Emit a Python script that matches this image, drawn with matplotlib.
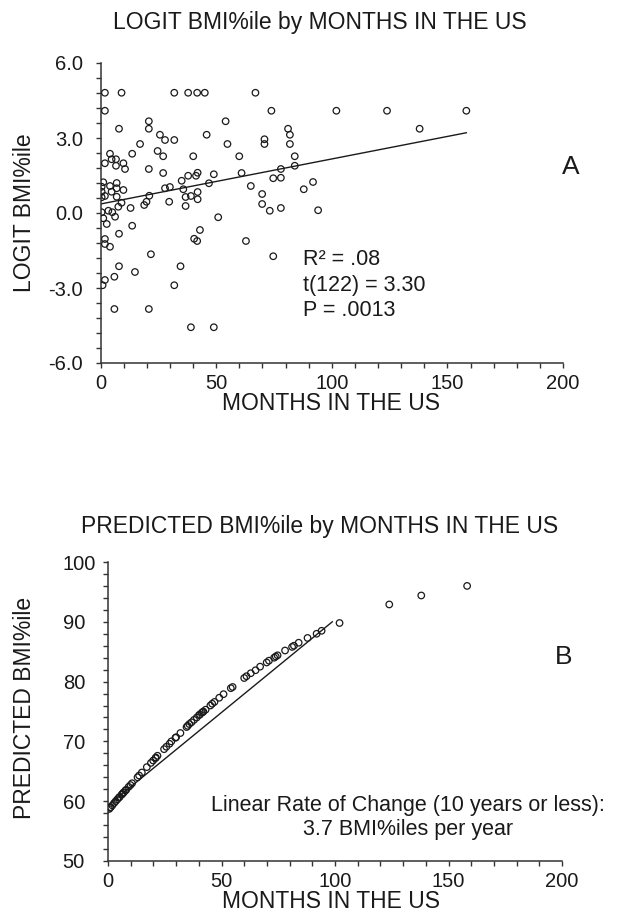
import numpy as np
import matplotlib.pyplot as plt
from matplotlib.ticker import MultipleLocator

plt.rcParams['font.family'] = ['Liberation Sans', 'DejaVu Sans']
plt.rcParams['axes.unicode_minus'] = False

# panel A: months in US vs logit BMI percentile
months = [1.9, 9.1, 31.9, 37.9, 41.8, 45.1, 67.0, 1.9, 73.9, 20.9, 54.1, 8.0, 20.9, 81.1,
          25.7, 45.9, 81.9, 27.9, 31.9, 70.9, 70.9, 17.1, 54.9, 81.9, 24.7, 13.7, 4.1, 27.1,
          40.1, 60.0, 84.0, 4.8, 6.7, 1.9, 6.7, 9.9, 10.6, 20.9, 84.0, 78.0, 27.1, 37.9,
          41.3, 42.0, 49.0, 61.0, 74.7, 78.0, 1.2, 7.0, 0.5, 4.1, 35.1, 46.9, 65.0, 30.0,
          27.9, 0.5, 4.8, 7.0, 9.9, 7.0, 1.9, 35.8, 42.0, 69.9, 21.1, 36.8, 39.1, 42.0,
          0.5, 19.9, 29.7, 9.1, 18.9, 36.8, 69.9, 7.7, 13.0, 78.0, 73.2, 0.5, 3.4, 5.1,
          6.3, 1.2, 50.9, 2.7, 13.7, 43.0, 8.0, 1.9, 40.5, 41.8, 62.9, 1.9, 4.1, 21.8,
          74.7, 8.0, 34.6, 14.9, 6.0, 1.9, 0.9, 31.9, 6.0, 20.9, 39.1, 49.0,
          102.0, 123.9, 158.2, 138.0, 91.9, 94.1, 87.9]
logit_bmi = [4.81, 4.81, 4.81, 4.81, 4.81, 4.81, 4.81, 4.09, 4.09, 3.67, 3.67, 3.37, 3.37, 3.37,
             3.13, 3.13, 3.13, 2.92, 2.92, 2.95, 2.76, 2.76, 2.76, 2.76, 2.48, 2.37, 2.37, 2.27,
             2.27, 2.27, 2.27, 2.15, 2.15, 1.99, 1.89, 1.99, 1.76, 1.76, 1.89, 1.76, 1.60, 1.49,
             1.49, 1.61, 1.55, 1.60, 1.39, 1.41, 1.23, 1.20, 1.05, 1.08, 1.29, 1.19, 1.08, 1.04,
             0.99, 0.85, 0.85, 0.99, 0.92, 0.65, 0.68, 0.95, 0.84, 0.76, 0.69, 0.64, 0.68, 0.55,
             0.63, 0.45, 0.45, 0.41, 0.32, 0.28, 0.36, 0.25, 0.20, 0.20, 0.09, 0.03, 0.09, 0.03,
             -0.15, -0.21, -0.17, -0.44, -0.51, -0.68, -0.83, -1.04, -1.03, -1.12, -1.12, -1.24, -1.35, -1.65,
             -1.73, -2.13, -2.13, -2.36, -2.55, -2.68, -2.89, -2.89, -3.84, -3.84, -4.57, -4.57,
             4.09, 4.09, 4.09, 3.37, 1.24, 0.11, 0.95]
fit_months = [0.0, 158.2]
fit_logit = [0.36, 3.21]

# panel B: predicted BMI percentile
pred_months = [0.5, 0.9, 1.2, 1.9, 2.7, 3.4, 4.1, 4.8, 5.1, 6.0, 6.3, 6.7, 7.0, 7.7, 8.0, 9.1,
               9.9, 10.6, 13.0, 13.7, 14.9, 17.1, 18.9, 19.9, 20.9, 21.1, 21.8, 24.7, 25.7, 27.1,
               27.9, 29.7, 30.0, 31.9, 34.6, 35.1, 35.8, 36.8, 37.9, 39.1, 40.1, 40.5, 41.3, 41.8,
               42.0, 43.0, 45.1, 45.9, 46.9, 49.0, 50.9, 54.1, 54.9, 60.0, 61.0, 62.9, 65.0, 67.0,
               69.9, 70.9, 73.2, 73.9, 74.7, 78.0, 81.1, 81.9, 84.0, 87.9, 91.9, 94.1,
               102.0, 123.9, 138.0, 158.2]
pred_pct = [58.7, 58.9, 59.0, 59.3, 59.7, 60.0, 60.3, 60.6, 60.7, 61.1, 61.2, 61.4, 61.5, 61.8, 61.9, 62.4,
            62.7, 63.0, 64.0, 64.3, 64.8, 65.7, 66.4, 66.8, 67.2, 67.3, 67.6, 68.7, 69.1, 69.6,
            70.0, 70.6, 70.7, 71.4, 72.4, 72.6, 72.9, 73.2, 73.6, 74.0, 74.4, 74.5, 74.8, 74.9,
            75.0, 75.3, 76.0, 76.3, 76.6, 77.3, 77.9, 78.9, 79.1, 80.6, 80.9, 81.4, 81.9, 82.5,
            83.2, 83.5, 84.0, 84.2, 84.4, 85.2, 85.8, 86.0, 86.5, 87.3, 88.0, 88.5,
            89.8, 92.9, 94.4, 96.0]
lin_months = [0.0, 98.8]
lin_pct = [59.3, 90.0]

W, H = 619, 914
fig = plt.figure(figsize=(W / 100, H / 100), dpi=100)
ink = '#1a1a1a'


def px(x, y):
    return x / W, 1 - y / H


def style(ax, ymaj, ymin, ypad):
    for s in ['top', 'right']:
        ax.spines[s].set_visible(False)
    for s in ['left', 'bottom']:
        ax.spines[s].set_linewidth(1.1)
        ax.spines[s].set_color('#333333')
    ax.xaxis.set_major_locator(MultipleLocator(50))
    ax.xaxis.set_minor_locator(MultipleLocator(10))
    ax.yaxis.set_major_locator(MultipleLocator(ymaj))
    ax.yaxis.set_minor_locator(MultipleLocator(ymin))
    ax.tick_params(which='both', direction='out', length=3.6, width=1, color='#333333',
                   labelsize=14.5, labelcolor=ink)
    ax.tick_params(axis='x', pad=4.5)
    ax.tick_params(axis='y', pad=ypad)
    ax.set_xlim(0, 200)


# ---- A ----
ax1 = fig.add_axes([100.5 / W, 1 - 363 / H, 462.5 / W, 300 / H])
ax1.scatter(months, logit_bmi, s=22, facecolors='none', edgecolors=ink, linewidths=0.9, zorder=3)
ax1.plot(fit_months, fit_logit, color=ink, lw=1.0)
ax1.set_ylim(-6, 6)
style(ax1, 3, 0.6, 9)
ax1.yaxis.set_major_formatter(plt.FormatStrFormatter('%.1f'))

fig.text(*px(320, 22), 'LOGIT BMI%ile by MONTHS IN THE US', ha='center', va='center',
         fontsize=16.5, color=ink)
fig.text(*px(25, 213), 'LOGIT BMI%ile', rotation=90, ha='center', va='center',
         fontsize=16.5, color=ink)
fig.text(*px(331, 404), 'MONTHS IN THE US', ha='center', va='center', fontsize=16.5, color=ink)
fig.text(*px(571, 167), 'A', ha='center', va='center', fontsize=19, color=ink)
for txt, yy in [('R² = .08', 260), ('t(122) = 3.30', 285), ('P = .0013', 310)]:
    fig.text(*px(303, yy), txt, ha='left', va='center', fontsize=15.5, color=ink)

# ---- B ----
ax2 = fig.add_axes([108 / W, 1 - 861 / H, 454 / W, 299 / H])
ax2.scatter(pred_months, pred_pct, s=22, facecolors='none', edgecolors=ink, linewidths=0.9, zorder=3)
ax2.plot(lin_months, lin_pct, color=ink, lw=1.0)
ax2.set_ylim(50, 100)
style(ax2, 10, 2, 29)
for lab in ax2.get_yticklabels():
    lab.set_horizontalalignment('left')

fig.text(*px(320, 527), 'PREDICTED BMI%ile by MONTHS IN THE US', ha='center', va='center',
         fontsize=16.5, color=ink)
fig.text(*px(25, 708), 'PREDICTED BMI%ile', rotation=90, ha='center', va='center',
         fontsize=16.5, color=ink)
fig.text(*px(331, 902), 'MONTHS IN THE US', ha='center', va='center', fontsize=16.5, color=ink)
fig.text(*px(564, 657), 'B', ha='center', va='center', fontsize=19, color=ink)
fig.text(*px(408, 806), 'Linear Rate of Change (10 years or less):', ha='center', va='center',
         fontsize=15.5, color=ink)
fig.text(*px(408, 830), '3.7 BMI%iles per year', ha='center', va='center', fontsize=15.5, color=ink)

fig.savefig('out.png', dpi=100)
